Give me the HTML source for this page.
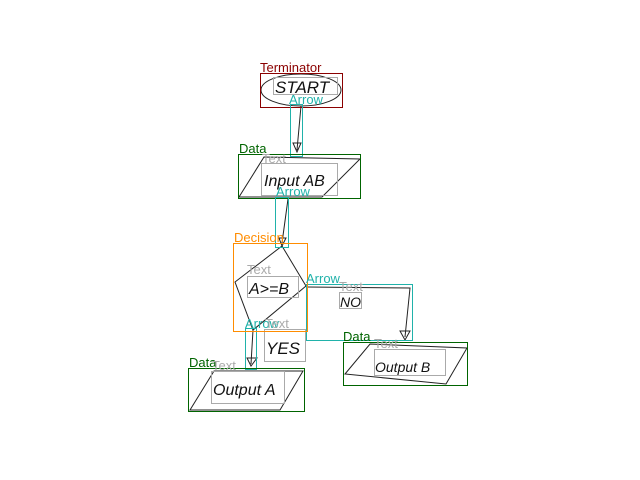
<!DOCTYPE html>
<html><head><meta charset="utf-8"><style>
html,body{margin:0;padding:0;background:#fff;}
svg{display:block;}
text{font-family:"Liberation Sans",sans-serif;}
.hw{font-family:"Liberation Serif",serif;font-style:italic;fill:#111;}
</style></head><body>
<svg width="640" height="480" viewBox="0 0 640 480" xmlns="http://www.w3.org/2000/svg">
<g fill="none" stroke="#222" stroke-width="1">
 <ellipse cx="301" cy="90" rx="40" ry="16"/>
 <path d="M301 106 L297 150 M293 143 L301 143 L297 152 Z"/>
 <path d="M264 157 L360 159 L322 197 L239 197 Z"/>
 <path d="M288 199 L282 243 M279 238 L286 238 L282 246 Z"/>
 <path d="M282 246 L306 286 L253 330 L235 282 Z"/>
 <path d="M307 287 L410 288 L405 337 M400 331 L410 331 L405 340 Z"/>
 <path d="M253 330 L251 364 M247 358 L257 358 L251 366 Z"/>
 <path d="M214 371 L303 371 L280 410 L190 410 Z"/>
 <path d="M370 344 L467 348 L446 384 L345 374 Z"/>
</g>
<g fill="none" stroke-width="1" shape-rendering="crispEdges">
 <rect x="260.5" y="73.5" width="82" height="34" stroke="#8b0000"/>
 <rect x="273.5" y="77.5" width="64" height="17" stroke="#aaa"/>
 <rect x="290.5" y="104.5" width="12" height="52" stroke="#20b2aa"/>
 <rect x="238.5" y="154.5" width="122" height="44" stroke="#006400"/>
 <rect x="261.5" y="163.5" width="76" height="32" stroke="#aaa"/>
 <rect x="275.5" y="197.5" width="13" height="50" stroke="#20b2aa"/>
 <rect x="247.5" y="276.5" width="51" height="21" stroke="#aaa"/>
 <rect x="306.5" y="284.5" width="106" height="56" stroke="#20b2aa"/>
 <rect x="339.5" y="292.5" width="22" height="16" stroke="#aaa"/>
 <rect x="245.5" y="328.5" width="11" height="41" stroke="#20b2aa"/>
 <rect x="264.5" y="329.5" width="41" height="32" stroke="#aaa"/>
 <rect x="188.5" y="368.5" width="116" height="43" stroke="#006400"/>
 <rect x="211.5" y="371.5" width="73" height="32" stroke="#aaa"/>
 <rect x="343.5" y="342.5" width="124" height="43" stroke="#006400"/>
 <rect x="374.5" y="349.5" width="71" height="26" stroke="#aaa"/>
 <rect x="233.5" y="243.5" width="74" height="88" stroke="#ff8c00" stroke-width="1"/>
</g>
<g font-size="13">
 <text x="260" y="72" fill="#8b0000">Terminator</text>
 <text x="289" y="104" fill="#20b2aa">Arrow</text>
 <text x="239" y="153" fill="#006400">Data</text>
 <text x="262" y="163" fill="#aaa">Text</text>
 <text x="276" y="196" fill="#20b2aa">Arrow</text>
 <text x="234" y="242" fill="#ff8c00">Decision</text>
 <text x="247" y="274" fill="#aaa">Text</text>
 <text x="306" y="283" fill="#20b2aa">Arrow</text>
 <text x="339" y="291" fill="#aaa">Text</text>
 <text x="245" y="328" fill="#20b2aa">Arrow</text>
 <text x="265" y="328" fill="#aaa">Text</text>
 <text x="343" y="341" fill="#006400">Data</text>
 <text x="374" y="348" fill="#aaa">Text</text>
 <text x="189" y="367" fill="#006400">Data</text>
 <text x="212" y="370" fill="#aaa">Text</text>
</g>
<g class="hw">
 <text x="275" y="93" font-size="17">START</text>
 <text x="264" y="186" font-size="16">Input AB</text>
 <text x="249" y="294" font-size="16">A&gt;=B</text>
 <text x="340" y="307" font-size="14">NO</text>
 <text x="266" y="354" font-size="17">YES</text>
 <text x="213" y="395" font-size="16">Output A</text>
 <text x="375" y="372" font-size="14">Output B</text>
</g>
</svg>
</body></html>
